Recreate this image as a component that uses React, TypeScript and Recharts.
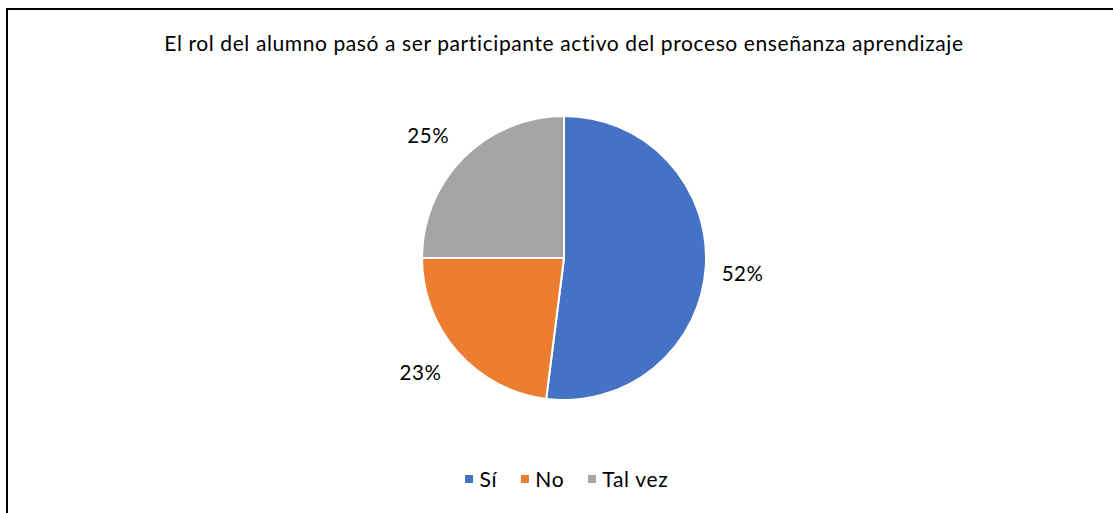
import React from 'react';
import { PieChart, Pie, Cell, Legend } from 'recharts';

const categories = ['Sí', 'No', 'Tal vez'];
const percentages = [52, 23, 25];
const colors = ['#4472C4', '#ED7D31', '#A5A5A5'];

const data = categories.map((name, i) => ({ name, value: percentages[i] }));

const FONT = 'Lato, "Noto Sans", sans-serif';
const RADIAN = Math.PI / 180;

// small nudges to mimic Excel's best-fit label placement
const labelNudge = [
  [-3, 4],
  [-7, -6],
  [-7, 6],
];

const renderLabel = (props: any) => {
  const { cx, cy, midAngle, outerRadius, index, value } = props;
  const r = outerRadius + 40;
  const x = cx + r * Math.cos(-midAngle * RADIAN) + labelNudge[index][0];
  const y = cy + r * Math.sin(-midAngle * RADIAN) + labelNudge[index][1];
  return (
    <text x={x} y={y} textAnchor="middle" dominantBaseline="central" fill="#000" fontSize={20.5} letterSpacing={0.6} fontFamily={FONT}>
      {`${value}%`}
    </text>
  );
};

const renderLegend = () => (
  <div style={{ display: 'flex', justifyContent: 'center', gap: 24, fontFamily: FONT, fontSize: 21, letterSpacing: 0.7, color: '#000', paddingLeft: 6 }}>
    {categories.map((c, i) => (
      <span key={c} style={{ display: 'flex', alignItems: 'center' }}>
        <span style={{ width: 8, height: 8, background: colors[i], display: 'inline-block', marginRight: 6 }} />
        {c}
      </span>
    ))}
  </div>
);

export default function App() {
  return (
    <div style={{ position: 'fixed', left: 0, top: 0, width: 1113, height: 513, overflow: 'hidden', background: '#fff' }}>
      <div style={{ position: 'absolute', left: 6, top: 8, width: 1200, height: 600, borderTop: '2px solid #000', borderLeft: '2px solid #000' }} />
      <div style={{ position: 'absolute', left: 0, top: 30, width: 1128, textAlign: 'center', fontFamily: FONT, fontSize: 21, letterSpacing: 0.6, color: '#000' }}>
        El rol del alumno pasó a ser participante activo del proceso enseñanza aprendizaje
      </div>
      <div style={{ position: 'absolute', left: 0, top: 0 }}>
        <PieChart width={1128} height={513}>
          <Pie
            data={data}
            dataKey="value"
            nameKey="name"
            cx={559}
            cy={253}
            outerRadius={142}
            startAngle={90}
            endAngle={-270}
            stroke="#fff"
            strokeWidth={2}
            label={renderLabel}
            labelLine={false}
            isAnimationActive={false}
          >
            {data.map((d, i) => (
              <Cell key={d.name} fill={colors[i]} />
            ))}
          </Pie>
          <Legend verticalAlign="bottom" content={renderLegend} wrapperStyle={{ bottom: 22 }} />
        </PieChart>
      </div>
    </div>
  );
}
